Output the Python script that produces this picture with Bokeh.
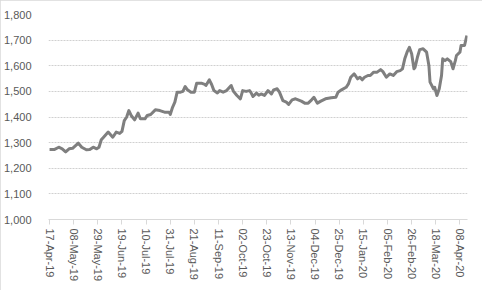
import math
from datetime import datetime, timedelta
from bokeh.plotting import figure
from bokeh.models import FixedTicker, DatetimeTickFormatter, NumeralTickFormatter, Range1d, ColumnDataSource
from bokeh.embed import file_html
from bokeh.resources import INLINE

dates = [
    "2019-04-17", "2019-04-21", "2019-04-25", "2019-04-28", "2019-05-01", "2019-05-04", "2019-05-07",
    "2019-05-12", "2019-05-15", "2019-05-19", "2019-05-22", "2019-05-25", "2019-05-28", "2019-05-30",
    "2019-06-01", "2019-06-03", "2019-06-07", "2019-06-11", "2019-06-14", "2019-06-17", "2019-06-19",
    "2019-06-21", "2019-06-23", "2019-06-25", "2019-06-27", "2019-06-30", "2019-07-03", "2019-07-05",
    "2019-07-09", "2019-07-11", "2019-07-14", "2019-07-18", "2019-07-22", "2019-07-26", "2019-07-30",
    "2019-07-31", "2019-08-02", "2019-08-04", "2019-08-06", "2019-08-09", "2019-08-11", "2019-08-13",
    "2019-08-15", "2019-08-18", "2019-08-21", "2019-08-23", "2019-08-27", "2019-08-30", "2019-08-31",
    "2019-09-03", "2019-09-05", "2019-09-07", "2019-09-10", "2019-09-12", "2019-09-15", "2019-09-18",
    "2019-09-22", "2019-09-24", "2019-09-27", "2019-09-30", "2019-10-02", "2019-10-05", "2019-10-08",
    "2019-10-09", "2019-10-11", "2019-10-14", "2019-10-16", "2019-10-18", "2019-10-21", "2019-10-24",
    "2019-10-27", "2019-10-29", "2019-11-01", "2019-11-03", "2019-11-06", "2019-11-09", "2019-11-11",
    "2019-11-14", "2019-11-17", "2019-11-22", "2019-11-25", "2019-11-28", "2019-12-01", "2019-12-03",
    "2019-12-06", "2019-12-09", "2019-12-13", "2019-12-18", "2019-12-22", "2019-12-24", "2019-12-27",
    "2019-12-31", "2020-01-02", "2020-01-04", "2020-01-07", "2020-01-08", "2020-01-10", "2020-01-12",
    "2020-01-14", "2020-01-16", "2020-01-19", "2020-01-21", "2020-01-24", "2020-01-27", "2020-01-30",
    "2020-02-01", "2020-02-04", "2020-02-07", "2020-02-10", "2020-02-13", "2020-02-16", "2020-02-18",
    "2020-02-20", "2020-02-22", "2020-02-24", "2020-02-26", "2020-02-28", "2020-02-29", "2020-03-02",
    "2020-03-04", "2020-03-07", "2020-03-10", "2020-03-12", "2020-03-13", "2020-03-16", "2020-03-17",
    "2020-03-19", "2020-03-21", "2020-03-23", "2020-03-24", "2020-03-26", "2020-03-28", "2020-03-31",
    "2020-04-02", "2020-04-04", "2020-04-05", "2020-04-08", "2020-04-09", "2020-04-12", "2020-04-14",
]

prices = [
    1273, 1273, 1282, 1276, 1264, 1276, 1278,
    1298, 1282, 1272, 1273, 1282, 1276, 1282,
    1311, 1321, 1341, 1321, 1341, 1336, 1344,
    1386, 1399, 1425, 1406, 1389, 1415, 1393,
    1393, 1406, 1410, 1428, 1425, 1419, 1419,
    1410, 1438, 1458, 1497, 1497, 1500, 1519,
    1506, 1497, 1497, 1532, 1532, 1527, 1523,
    1545, 1527, 1503, 1494, 1503, 1497, 1503,
    1523, 1500, 1484, 1471, 1503, 1500, 1503,
    1497, 1480, 1493, 1485, 1490, 1484, 1503,
    1490, 1506, 1510, 1497, 1464, 1458, 1449,
    1467, 1471, 1462, 1454, 1454, 1467, 1477,
    1454, 1462, 1471, 1475, 1477, 1497, 1506,
    1516, 1529, 1555, 1568, 1562, 1549, 1555,
    1545, 1555, 1562, 1562, 1575, 1575, 1585,
    1577, 1555, 1568, 1562, 1577, 1581, 1588,
    1627, 1653, 1672, 1647, 1588, 1594, 1633,
    1663, 1666, 1653, 1601, 1536, 1510, 1516,
    1484, 1510, 1562, 1627, 1620, 1627, 1616,
    1588, 1620, 1640, 1653, 1679, 1679, 1718,
]

tick_dates = [
    "2019-04-17", "2019-05-08", "2019-05-29", "2019-06-19", "2019-07-10", "2019-07-31",
    "2019-08-21", "2019-09-11", "2019-10-02", "2019-10-23", "2019-11-13", "2019-12-04",
    "2019-12-25", "2020-01-15", "2020-02-05", "2020-02-26", "2020-03-18", "2020-04-08",
]
y_ticks = [1000, 1100, 1200, 1300, 1400, 1500, 1600, 1700, 1800]

x = [datetime.strptime(d, "%Y-%m-%d") for d in dates]
src = ColumnDataSource(dict(x=x, y=prices))

def ms(dt):
    return (dt - datetime(1970, 1, 1)).total_seconds() * 1000.0

x0 = ms(x[0] - timedelta(hours=22))
x1 = ms(x[-1] + timedelta(hours=14))

p = figure(width=482, height=290, output_backend="svg", toolbar_location=None,
           x_axis_type="datetime",
           x_range=Range1d(x0, x1), y_range=Range1d(1000, 1800),
           min_border_left=47, min_border_right=15, min_border_top=14, min_border_bottom=71)
p.styles = {"outline": "1px solid #d9d9d9", "outline-offset": "-1px"}
p.outline_line_color = None
p.background_fill_color = "white"
p.border_fill_color = "white"

p.line("x", "y", source=src, line_color="#7f7f7f", line_width=3, line_join="round")

lbl_font = "Liberation Sans"
p.xaxis.ticker = FixedTicker(ticks=[ms(datetime.strptime(t, "%Y-%m-%d")) for t in tick_dates])
fmt = "%d-%b-%y"
p.xaxis.formatter = DatetimeTickFormatter(microseconds=fmt, milliseconds=fmt, seconds=fmt,
                                          minsec=fmt, minutes=fmt, hourmin=fmt, hours=fmt,
                                          days=fmt, months=fmt, years=fmt)
p.xaxis.major_label_orientation = -math.pi / 2
p.xaxis.axis_line_color = "#d9d9d9"
p.xaxis.major_tick_line_color = "#d9d9d9"
p.xaxis.major_tick_out = 5
p.xaxis.major_tick_in = 0
p.xaxis.minor_tick_line_color = None
p.xaxis.major_label_standoff = 4
p.xaxis.major_label_text_font = lbl_font
p.xaxis.major_label_text_font_size = "11px"
p.xaxis.major_label_text_color = "#595959"

p.yaxis.ticker = FixedTicker(ticks=y_ticks)
p.yaxis.formatter = NumeralTickFormatter(format="0,0")
p.yaxis.axis_line_color = None
p.yaxis.major_tick_line_color = None
p.yaxis.minor_tick_line_color = None
p.yaxis.major_label_standoff = 11
p.yaxis.major_label_text_font = lbl_font
p.yaxis.major_label_text_font_size = "11px"
p.yaxis.major_label_text_color = "#595959"

p.xgrid.grid_line_color = None
p.ygrid.grid_line_color = "#d0d0d0"
p.ygrid.grid_line_dash = "2 1"
p.ygrid.grid_line_width = 1

open("out.html", "w").write(file_html(p, INLINE))
